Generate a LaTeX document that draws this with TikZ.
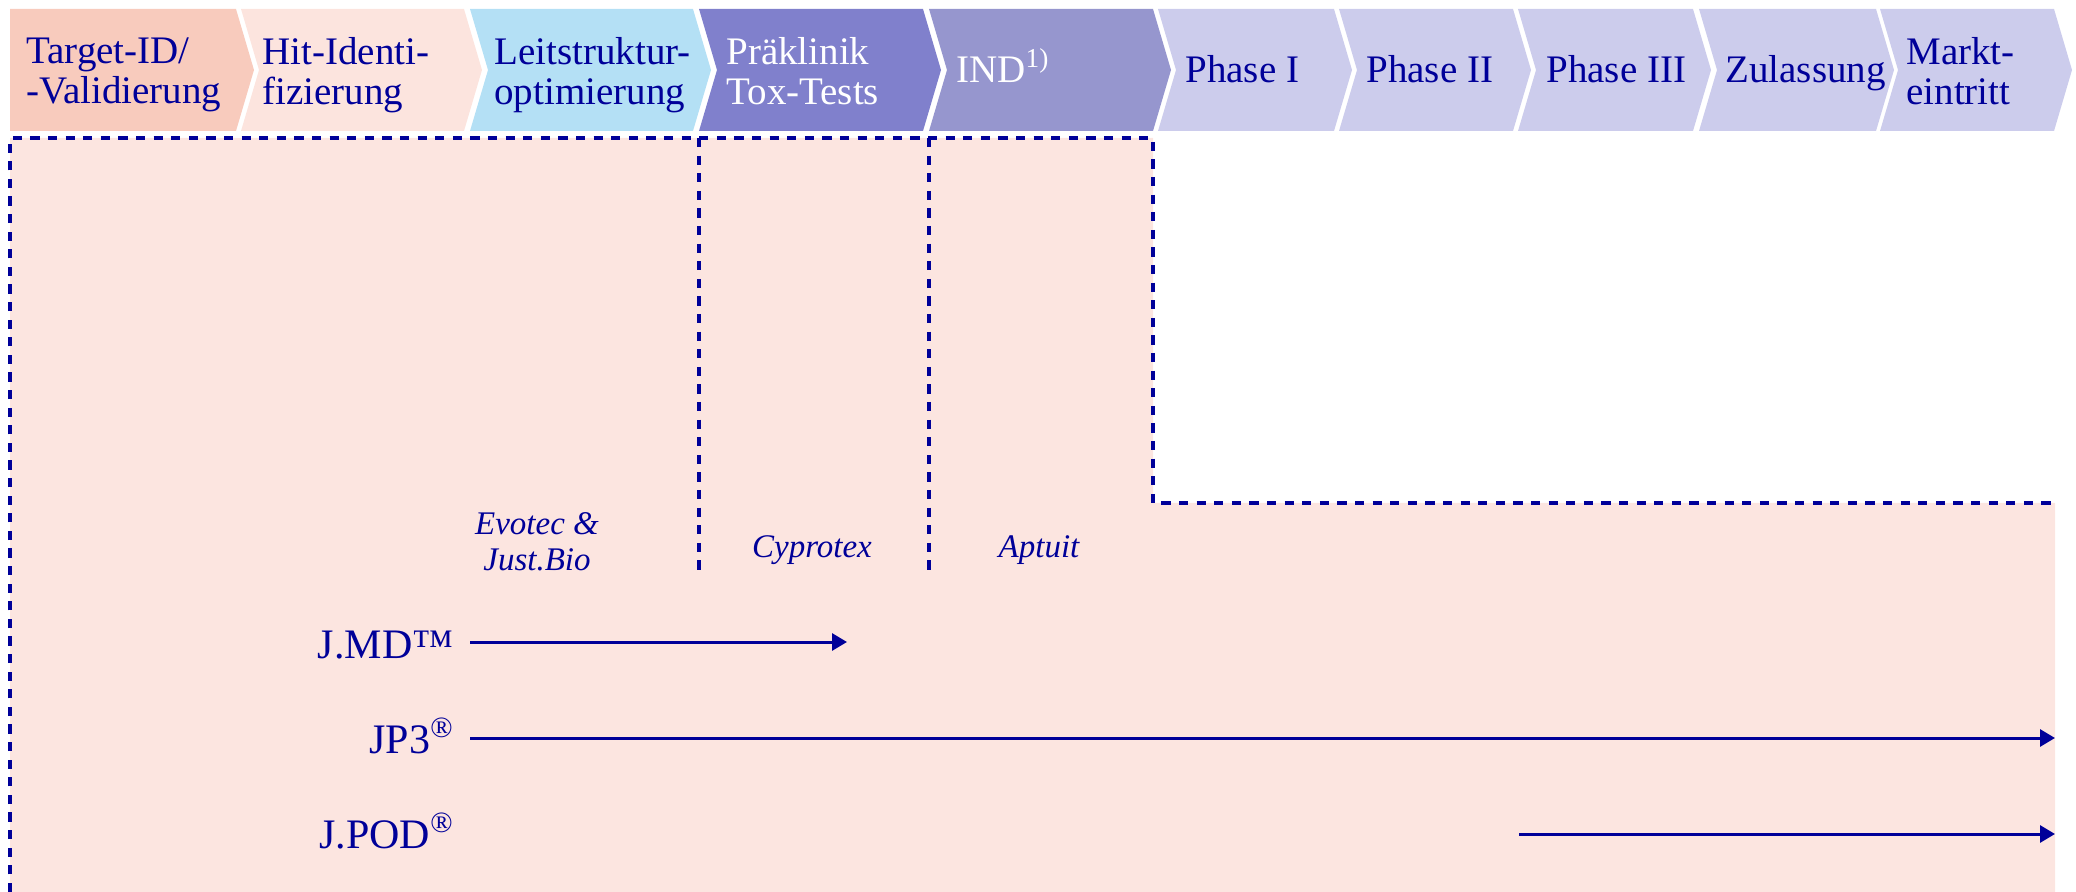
\documentclass[tikz,border=0pt]{standalone}
\usepackage{fontspec}
\setmainfont{Liberation Serif}
\usetikzlibrary{arrows.meta}

\definecolor{navy}{RGB}{0,0,153}
\definecolor{peach}{RGB}{248,203,189}
\definecolor{blush}{RGB}{252,228,222}
\definecolor{sky}{RGB}{180,224,245}
\definecolor{toxblue}{RGB}{128,128,204}
\definecolor{indblue}{RGB}{150,150,206}
\definecolor{lilac}{RGB}{204,204,236}
\definecolor{bgpink}{RGB}{252,229,224}

\begin{document}
\begin{tikzpicture}[
                    x=0.5pt, y=-0.5pt,
                    stage/.style={
                        anchor=north west,
                        inner sep=0pt,
                        align=left,
                        text=navy,
                        font=\fontsize{19.5}{20}\selectfont
                    },
                    stageline/.style={stage, anchor=base west},
                    partner/.style={
                        inner sep=0pt,
                        align=center,
                        text=navy,
                        font=\fontsize{16.5}{18}\selectfont\itshape
                    },
                    product/.style={
                        anchor=base east,
                        inner sep=0pt,
                        text=navy,
                        font=\fontsize{21}{24}\selectfont
                    },
                    border/.style={draw=navy, line width=1.7pt, dash pattern=on 4.6pt off 4.2pt},
                    flow/.style={draw=navy, line width=1.5pt, -{Triangle[length=7.5pt,width=8.5pt]}}
                ]
                    \useasboundingbox (0,0) rectangle (2076,892);

                    % Background
                    \fill[bgpink] (10,138) -- (1153,138) -- (1153,503) -- (2055,503) -- (2055,892) -- (10,892) -- cycle;

                    % Chevrons
                    \fill[peach] (10,9) -- (236,9) -- (254,70) -- (236,131) -- (10,131) -- cycle;
                    \foreach \l/\r/\c in {241/464/blush, 470/693/sky, 699/923/toxblue, 929/1153/indblue,
                                          1158/1334/lilac, 1339/1513/lilac, 1518/1693/lilac,
                                          1699/1876/lilac, 1880/2054/lilac}
                        \fill[\c] (\l,9) -- (\r,9) -- (\r+18,70) -- (\r,131) -- (\l,131) -- (\l+18,70) -- cycle;

                    \node[stage] (tgt) at (26,37) {Target-ID/\\-Validierung};
                    \node[stage] (hit) at (262,37) {Hit-Identi-\\fizierung};
                    \node[stage] (lead) at (494,37) {Leitstruktur-\\optimierung};
                    \node[stage, text=white] (tox) at (726,37) {Präklinik\\Tox-Tests};
                    \node[stageline, text=white] (ind) at (956,83) {IND\textsuperscript{1)}};
                    \node[stageline] (ph1) at (1185,83) {Phase I};
                    \node[stageline] (ph2) at (1366,83) {Phase II};
                    \node[stageline] (ph3) at (1546,83) {Phase III};
                    \node[stageline] (zul) at (1725,83) {Zulassung};
                    \node[stage] (mkt) at (1906,37) {Markt-\\eintritt};

                    % Borders
                    \draw[border] (10,892) -- (10,138) -- (1153,138) -- (1153,503) -- (2055,503);
                    \draw[border] (699,138) -- (699,576);
                    \draw[border] (929,138) -- (929,576);

                    % Partners
                    \node[partner] (evo) at (537,542) {Evotec \&\\Just.Bio};
                    \node[partner, anchor=base] (cyp) at (812,557) {Cyprotex};
                    \node[partner, anchor=base] (apt) at (1039,557) {Aptuit};

                    % Products
                    \node[product] (jmd) at (454,658) {J.MD™};
                    \node[product] (jp3) at (454,753) {JP3\textsuperscript{®}};
                    \node[product] (jpod) at (454,848) {J.POD\textsuperscript{®}};

                    \coordinate (jmdend) at (847,642);
                    \coordinate (jp3end) at (2055,738);
                    \coordinate (podstart) at (1519,834);
                    \coordinate (podend) at (2055,834);

                    % Arrows
                    \draw[flow] (jmd.east |- jmdend) ++(8pt,0) -- (jmdend);
                    \draw[flow] (jp3.east |- jp3end) ++(8pt,0) -- (jp3end);
                    \draw[flow] (podstart) -- (podend);
                \end{tikzpicture}
\end{document}
